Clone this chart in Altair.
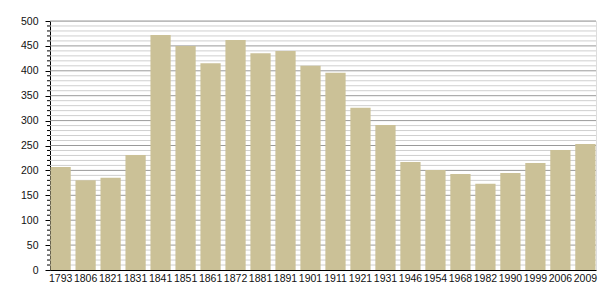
import altair as alt
import pandas as pd

years = ["1793", "1806", "1821", "1831", "1841", "1851", "1861", "1872", "1881", "1891", "1901",
         "1911", "1921", "1931", "1946", "1954", "1968", "1982", "1990", "1999", "2006", "2009"]
population = [207, 180, 185, 231, 472, 450, 415, 462, 435, 440, 410,
              396, 326, 291, 217, 201, 193, 173, 195, 215, 241, 253]

major_vals = list(range(0, 501, 50))
minor_vals = [v for v in range(10, 501, 10) if v % 50 != 0]

df = pd.DataFrame({"year": years, "pop": population})
df_major = pd.DataFrame({"v": major_vals[1:]})
df_minor = pd.DataFrame({"v": minor_vals})

yscale = alt.Scale(domain=[0, 500], nice=False)
yaxis = alt.Axis(values=major_vals, grid=False, tickSize=5, tickColor="#000000",
                 domainColor="#000000", domainWidth=1,
                 labelFont="Liberation Sans", labelFontSize=10.5, labelColor="#111111",
                 labelPadding=7)

minor_grid = alt.Chart(df_minor).mark_rule(color="#cfcfcf", strokeWidth=1).encode(
    y=alt.Y("v:Q", scale=yscale, axis=yaxis, title=None)
)
major_grid = alt.Chart(df_major).mark_rule(color="#9a9a9a", strokeWidth=1).encode(
    y=alt.Y("v:Q", scale=yscale, axis=yaxis, title=None)
)
minor_ticks = alt.Chart(df_minor).mark_rule(color="#000000", strokeWidth=1).encode(
    y=alt.Y("v:Q", scale=yscale, axis=yaxis, title=None),
    x=alt.value(-3),
    x2=alt.value(0),
)

bars = alt.Chart(df).mark_bar(color="#cbc197").encode(
    x=alt.X("year:N", sort=None, title=None,
            scale=alt.Scale(paddingInner=0.19, paddingOuter=0.02),
            axis=alt.Axis(labelAngle=0, ticks=False, domainColor="#000000", domainWidth=1,
                          labelFont="Liberation Sans", labelFontSize=10.5, labelColor="#111111",
                          labelPadding=3)),
    y=alt.Y("pop:Q", scale=yscale, title=None, axis=yaxis),
)

chart = alt.layer(minor_grid, major_grid, bars, minor_ticks).properties(
    width=546, height=249,
    padding={"left": 50, "top": 21, "right": 9, "bottom": 30},
    autosize="none",
).configure_view(stroke=None).configure(background="#ffffff")

chart.save("out.html", embed_options={"renderer": "svg", "actions": False})
